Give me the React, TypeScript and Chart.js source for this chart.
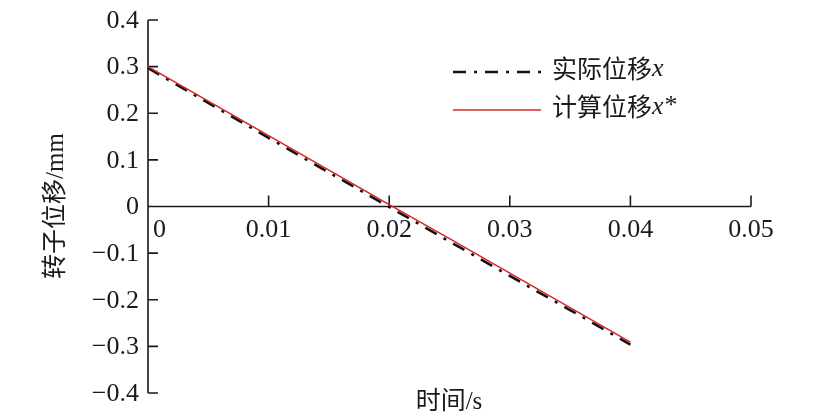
import { useEffect, useRef } from "react";
import { Chart, registerables } from "chart.js";

Chart.register(...registerables);

const time = [0, 0.005, 0.01, 0.015, 0.02, 0.025, 0.03, 0.035, 0.04];
const actualX = [0.297, 0.222, 0.147, 0.073, -0.001, -0.075, -0.149, -0.222, -0.296];
const calcX = [0.3, 0.226, 0.152, 0.078, 0.004, -0.069, -0.143, -0.217, -0.291];

const xTicks = [0, 0.01, 0.02, 0.03, 0.04, 0.05];
const xTickLabels = ["0", "0.01", "0.02", "0.03", "0.04", "0.05"];
const yTicks = [0.4, 0.3, 0.2, 0.1, 0, -0.1, -0.2, -0.3, -0.4];
const yTickLabels = ["0.4", "0.3", "0.2", "0.1", "0", "−0.1", "−0.2", "−0.3", "−0.4"];

const seriesNames = ["实际位移", "计算位移"];
const seriesVars = ["x", "x*"];
const xTitle = "时间/s";
const yTitle = "转子位移/mm";

const NUM_FONT = '26px "Liberation Serif", "DejaVu Serif", serif';
const CJK_FONT = '25px "Liberation Serif", "Noto Sans CJK SC", serif';
const ITALIC_FONT = 'italic 26px "Liberation Serif", serif';
const AXIS_COLOR = "#1a1a1a";
const RED = "#d42a2a";
const DASH = [13, 8, 3, 8];

const axesPlugin = {
  id: "axesPlugin",
  beforeDatasetsDraw(chart: any) {
    const { ctx, scales } = chart;
    const xs = scales.x;
    const ys = scales.y;
    const left = xs.getPixelForValue(0);
    const right = xs.getPixelForValue(0.05);
    const top = ys.getPixelForValue(0.4);
    const bottom = ys.getPixelForValue(-0.4);
    const zero = ys.getPixelForValue(0);

    ctx.save();
    ctx.strokeStyle = AXIS_COLOR;
    ctx.lineWidth = 1.6;
    ctx.beginPath();
    ctx.moveTo(left, top);
    ctx.lineTo(left, bottom);
    ctx.moveTo(left, zero);
    ctx.lineTo(right, zero);
    yTicks.forEach((v) => {
      const py = ys.getPixelForValue(v);
      ctx.moveTo(left, py);
      ctx.lineTo(left + 10, py);
    });
    xTicks.forEach((v) => {
      if (v === 0) return;
      const px = xs.getPixelForValue(v);
      ctx.moveTo(px, zero);
      ctx.lineTo(px, zero - 11);
    });
    ctx.stroke();

    ctx.fillStyle = AXIS_COLOR;
    ctx.font = NUM_FONT;
    ctx.textBaseline = "middle";
    ctx.textAlign = "right";
    yTicks.forEach((v, i) => {
      ctx.fillText(yTickLabels[i], left - 9, ys.getPixelForValue(v) + 1);
    });
    xTicks.forEach((v, i) => {
      const px = xs.getPixelForValue(v);
      if (i === 0) {
        ctx.textAlign = "left";
        ctx.fillText(xTickLabels[i], px + 5, zero + 24);
      } else {
        ctx.textAlign = "center";
        ctx.fillText(xTickLabels[i], px, zero + 24);
      }
    });
    ctx.restore();
  },
  afterDraw(chart: any) {
    const { ctx } = chart;
    ctx.save();
    ctx.fillStyle = AXIS_COLOR;
    ctx.textBaseline = "middle";

    // axis titles
    ctx.font = CJK_FONT;
    ctx.textAlign = "center";
    ctx.fillText(xTitle, 449, 402);
    ctx.save();
    ctx.translate(56, 206);
    ctx.rotate(-Math.PI / 2);
    ctx.fillText(yTitle, 0, 0);
    ctx.restore();

    // legend
    const rows = [72, 110];
    chart.data.datasets.forEach((ds: any, i: number) => {
      const y = rows[i];
      ctx.save();
      ctx.strokeStyle = ds.borderColor;
      ctx.lineWidth = ds.borderWidth;
      ctx.setLineDash(ds.borderDash || []);
      ctx.beginPath();
      ctx.moveTo(453, y);
      ctx.lineTo(541, y);
      ctx.stroke();
      ctx.restore();

      ctx.textAlign = "left";
      ctx.font = CJK_FONT;
      const name = seriesNames[i];
      ctx.fillText(name, 552, y - 1);
      let px = 552 + ctx.measureText(name).width;
      const v = seriesVars[i];
      ctx.font = ITALIC_FONT;
      ctx.fillText(v[0], px, y - 3);
      px += ctx.measureText(v[0]).width;
      if (v.length > 1) {
        ctx.font = NUM_FONT;
        ctx.fillText(v.slice(1), px + 1, y - 4);
      }
    });
    ctx.restore();
  },
};

function DisplacementChart() {
  const chartRef = useRef<HTMLCanvasElement>(null);
  const chartInstance = useRef<Chart | null>(null);

  useEffect(() => {
    if (!chartRef.current) return;
    const ctx = chartRef.current.getContext("2d");
    if (!ctx) return;

    chartInstance.current = new Chart(ctx, {
      type: "line",
      data: {
        datasets: [
          {
            label: seriesNames[0] + seriesVars[0],
            data: time.map((t, i) => ({ x: t, y: actualX[i] })),
            borderColor: "#111111",
            borderWidth: 2.6,
            borderDash: DASH,
            pointRadius: 0,
            fill: false,
            order: 1,
          },
          {
            label: seriesNames[1] + seriesVars[1],
            data: time.map((t, i) => ({ x: t, y: calcX[i] })),
            borderColor: RED,
            borderWidth: 1.6,
            pointRadius: 0,
            fill: false,
            order: 0,
          },
        ],
      },
      options: {
        animation: false,
        responsive: true,
        maintainAspectRatio: false,
        layout: { padding: { left: 148, right: 76, top: 20, bottom: 23 } },
        plugins: {
          legend: { display: false },
          tooltip: { enabled: false },
        },
        scales: {
          x: { type: "linear", min: 0, max: 0.05, display: false },
          y: { type: "linear", min: -0.4, max: 0.4, display: false },
        },
      },
      plugins: [axesPlugin],
    });

    return () => chartInstance.current?.destroy();
  }, []);

  return <canvas ref={chartRef} />;
}

export default function App() {
  return (
    <div
      style={{
        position: "absolute",
        left: 0,
        top: 0,
        width: 827,
        height: 416,
        background: "#ffffff",
      }}
    >
      <DisplacementChart />
    </div>
  );
}
